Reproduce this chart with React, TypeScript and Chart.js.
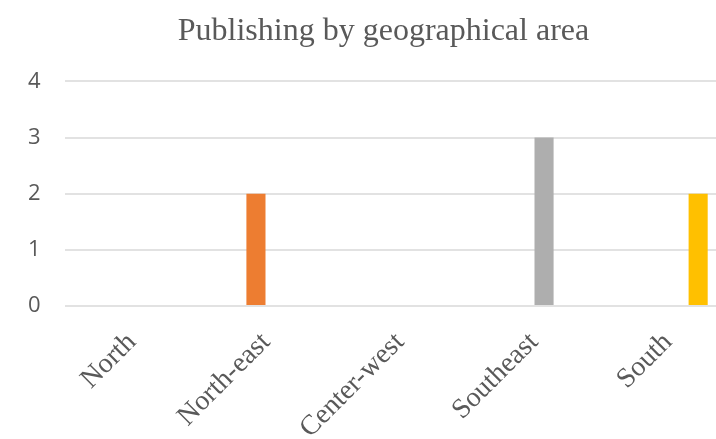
import React, { useEffect, useRef } from "react";
import { Chart, registerables } from "chart.js";

Chart.register(...registerables);

const chartTitle = "Publishing by geographical area";
const categories = ["North", "North-east", "Center-west", "Southeast", "South"];
// One series per region (as in the source spreadsheet); null = no bar in that category
const seriesNorth = [0, null, 0, null, null];
const seriesNorthEast = [null, 2, null, null, null];
const seriesSoutheast = [null, null, null, 3, null];
const seriesSouth = [null, null, null, null, 2];
const yTicks = [0, 1, 2, 3, 4];

const seriesNames = ["North", "North-east", "Southeast", "South"];
const seriesColors = ["#4472C4", "#ED7D31", "#AEAEAE", "#FFC000"];

export default function App() {
  const canvasRef = useRef<HTMLCanvasElement | null>(null);

  useEffect(() => {
    if (!canvasRef.current) return;
    const seriesData = [seriesNorth, seriesNorthEast, seriesSoutheast, seriesSouth];
    const chart = new Chart(canvasRef.current, {
      type: "bar",
      data: {
        labels: categories,
        datasets: seriesData.map((d, i) => ({
          label: seriesNames[i],
          data: d as any,
          backgroundColor: seriesColors[i],
          borderWidth: 0,
          categoryPercentage: 0.6,
          barPercentage: 0.95,
        })),
      },
      options: {
        responsive: true,
        maintainAspectRatio: false,
        animation: false,
        layout: { padding: { left: 32, right: 31, top: 0, bottom: 0 } },
        plugins: {
          legend: { display: false },
          tooltip: { enabled: false },
          title: {
            display: true,
            text: chartTitle,
            color: "#595959",
            font: { family: "'Liberation Serif', 'Times New Roman', serif", size: 32, weight: "normal", lineHeight: 1.2 },
            padding: { top: 12, bottom: 31 },
          },
        },
        scales: {
          x: {
            grid: { display: false },
            border: { display: false },
            ticks: {
              color: "#595959",
              minRotation: 45,
              maxRotation: 45,
              padding: 12,
              font: { family: "'Liberation Serif', 'Times New Roman', serif", size: 28 },
            },
            afterFit: (scale: any) => {
              scale.height = 133;
            },
          },
          y: {
            min: yTicks[0],
            max: yTicks[yTicks.length - 1],
            grid: { color: "#E2E2E2", lineWidth: 2, drawTicks: false },
            border: { display: false },
            ticks: {
              stepSize: 1,
              color: "#595959",
              mirror: true,
              padding: -37,
              font: { family: "'Open Sans', 'Liberation Sans', sans-serif", size: 22 },
            },
            afterFit: (scale: any) => {
              scale.width = 33;
            },
          },
        },
      },
    });
    return () => chart.destroy();
  }, []);

  return (
    <div
      style={{
        position: "fixed",
        left: 0,
        top: 0,
        width: 716,
        height: 439,
        overflow: "hidden",
        background: "#ffffff",
      }}
    >
      <div style={{ position: "relative", width: 766, height: 439 }}>
        <canvas ref={canvasRef} />
      </div>
    </div>
  );
}
